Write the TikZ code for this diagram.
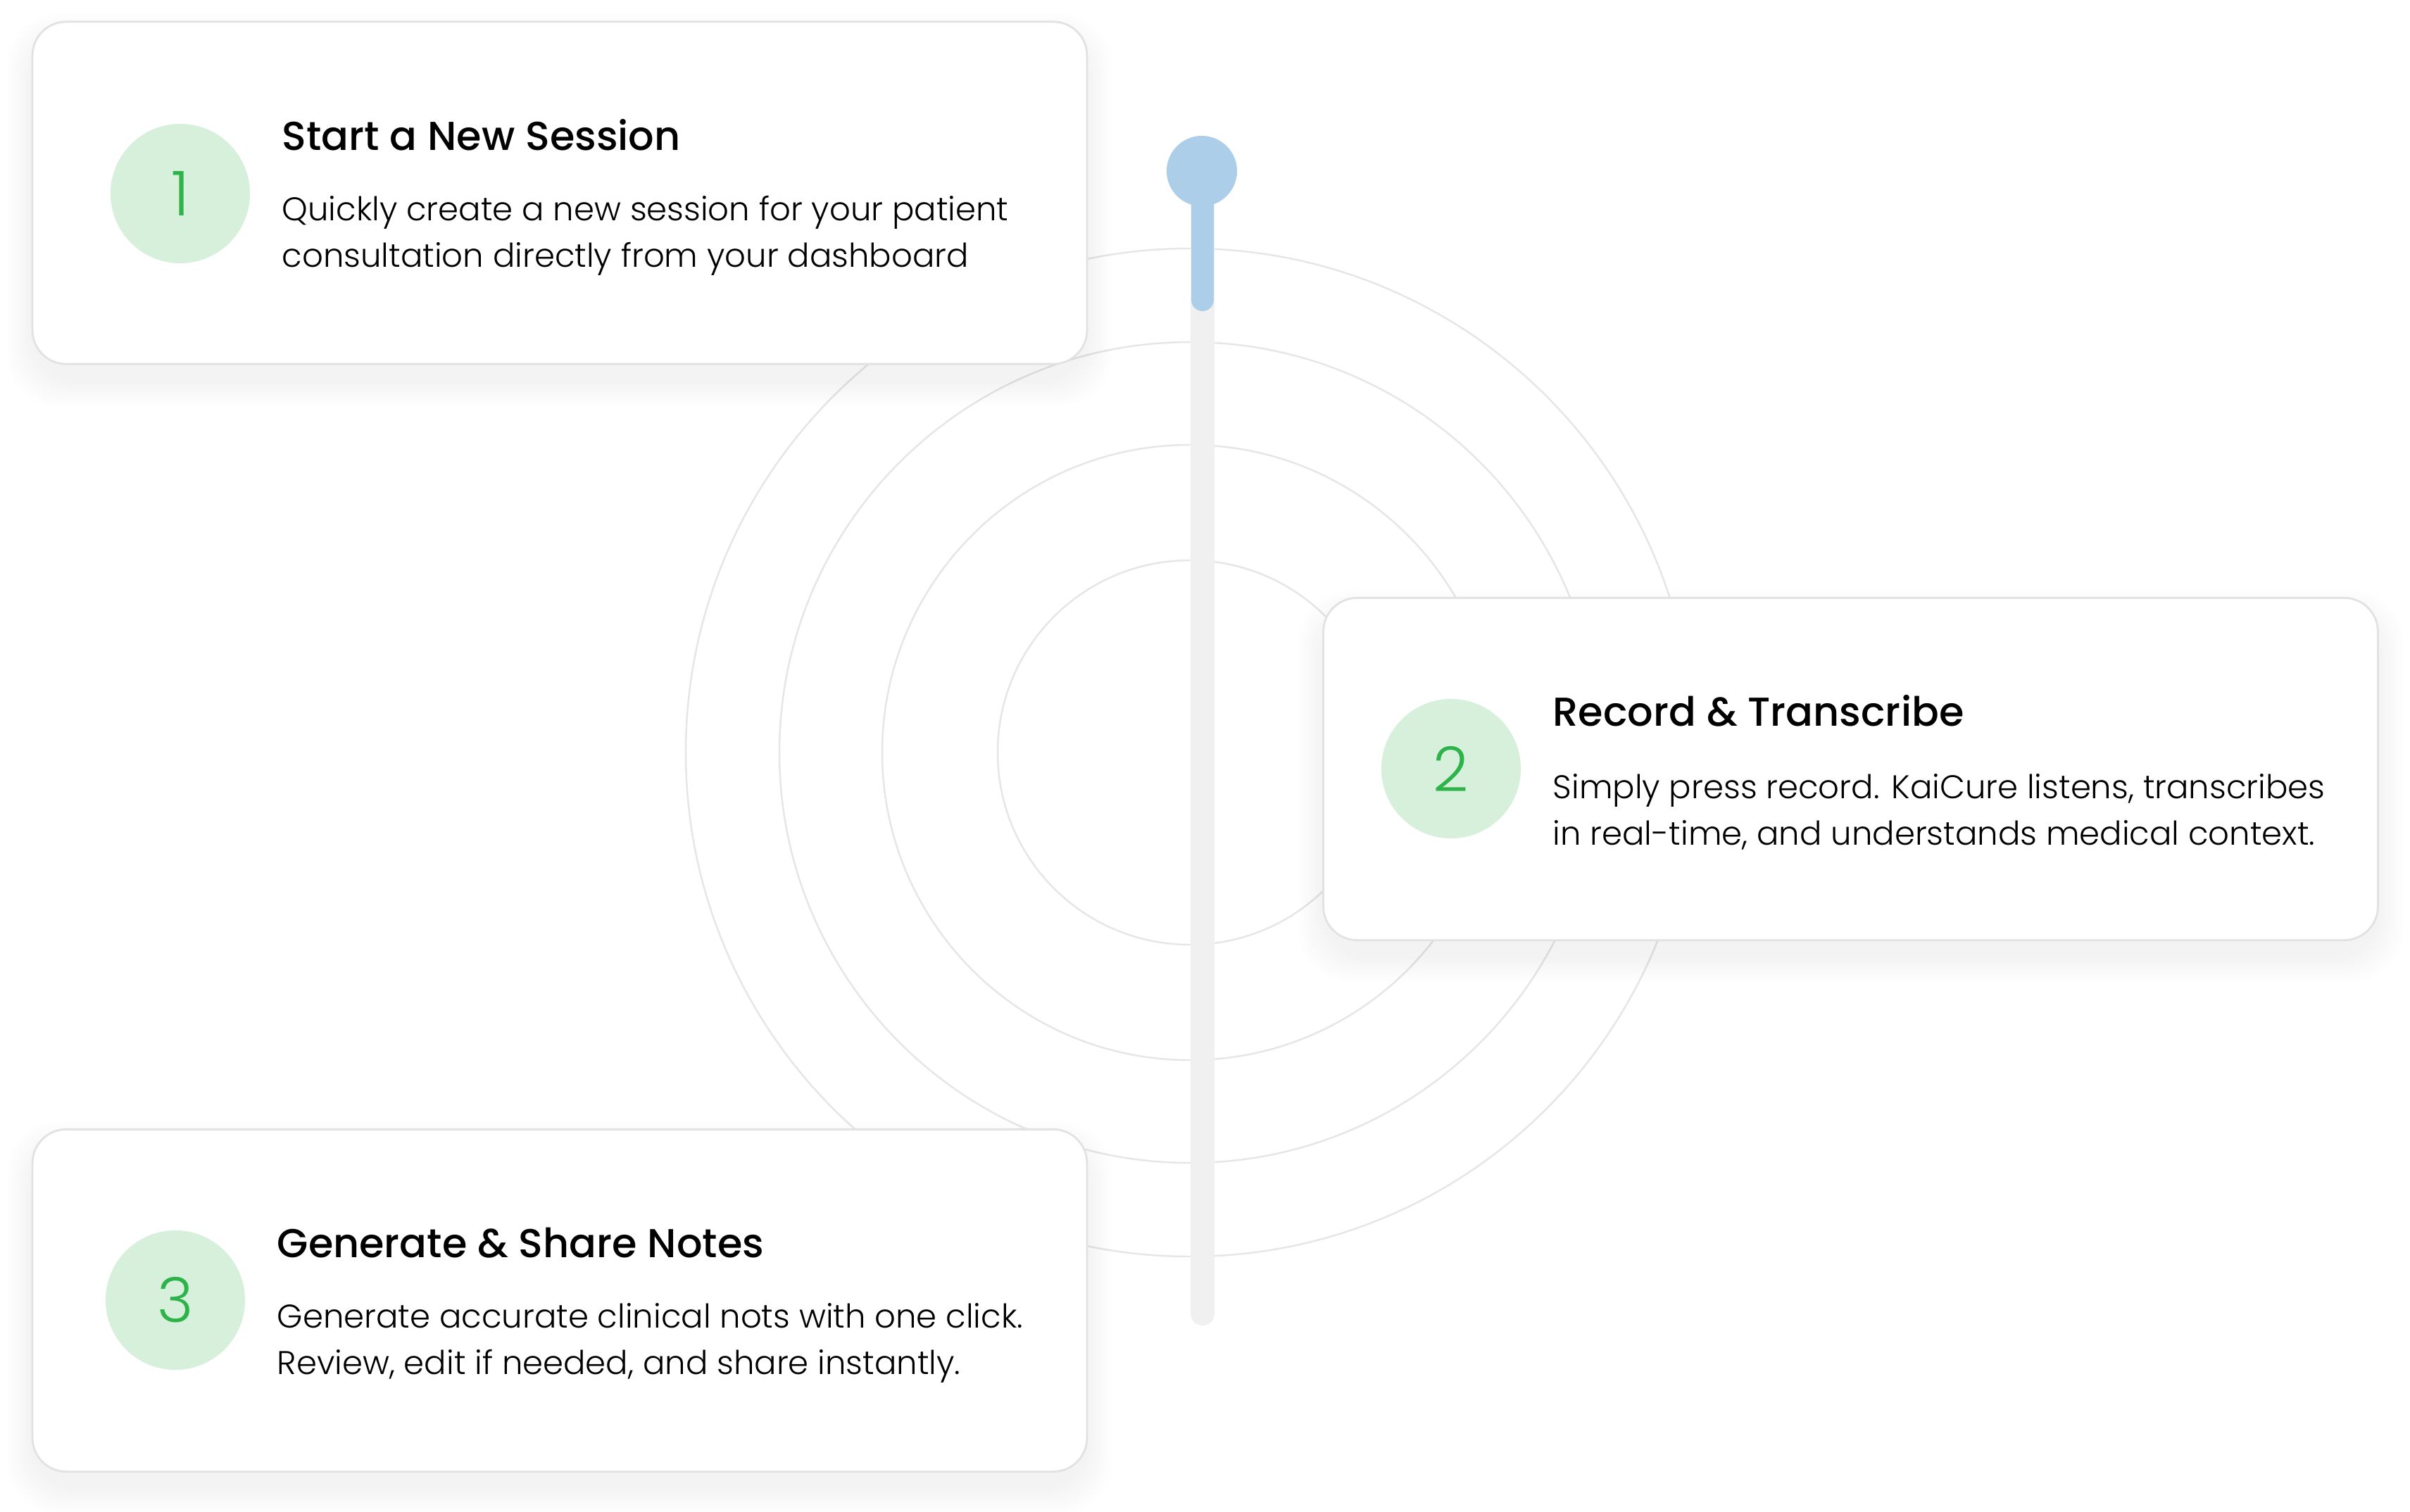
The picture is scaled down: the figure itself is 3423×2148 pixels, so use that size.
\documentclass[tikz,border=0pt]{standalone}
\usepackage{xcolor}
\usepackage{fontspec}
\usepackage{tikz}
\usetikzlibrary{positioning}
\newfontfamily\cardfont{Poppins Light}
\newfontfamily\headfont{Poppins Medium}
\definecolor{ringgray}{HTML}{E6E6E6}
\definecolor{trackgray}{HTML}{F0F0F0}
\definecolor{barblue}{HTML}{ACCEE9}
\definecolor{stepgreen}{HTML}{D7F0DC}
\definecolor{numgreen}{HTML}{2DB34A}
\definecolor{cardline}{HTML}{E2E2E2}
\tikzset{x=0.01cm, y=-0.01cm}
\tikzstyle{ring} = [draw=ringgray, line width=0.7pt]
\tikzstyle{card} = [draw=cardline, fill=white, line width=0.8pt, rounded corners=0.48cm, minimum width=14.97cm, minimum height=4.86cm, inner sep=0]
\tikzstyle{badge} = [circle, fill=stepgreen, minimum size=1.98cm, inner sep=0, text=numgreen, font=\cardfont\fontsize{25}{30}\selectfont]
\tikzstyle{head} = [inner sep=0, anchor=base west, font=\headfont\fontsize{16.3}{20}\selectfont]
\tikzstyle{body} = [inner sep=0, anchor=west, align=left, font=\cardfont\fontsize{13.25}{18.76}\selectfont]

\begin{document}
\begin{tikzpicture}
\useasboundingbox (0, 0) rectangle (3423, 2148);
\fill [white] (0, 0) rectangle (3423, 2148);
% rings
\foreach \r in {273, 437, 583, 716}
  \draw [ring] (1690, 1069) circle [radius=\r*0.01cm];
% track and handle
\coordinate (top) at (1708, 243);
\coordinate (low) at (1708, 1866);
\coordinate (mid) at (1708, 426);
\draw [trackgray, line width=0.34cm, line cap=round] (top) -- (low);
\node [circle, fill=barblue, minimum size=1cm, inner sep=0] (knob) at (1707, 243) {};
\draw [barblue, line width=0.32cm, line cap=round] (top) -- (mid);
% shadows
\foreach \i in {1, ..., 12} {
  \fill [black, opacity=0.0025, rounded corners=0.7cm] (46-\i*3, 31+24-\i*3) rectangle (1543+\i*3, 517+24+\i*3);
  \fill [black, opacity=0.0025, rounded corners=0.7cm] (1880-\i*3, 850+24-\i*3) rectangle (3377+\i*3, 1335+24+\i*3);
  \fill [black, opacity=0.0025, rounded corners=0.7cm] (46-\i*3, 1605+24-\i*3) rectangle (1543+\i*3, 2090+24+\i*3);
}
% cards
\node [card] (c1) at (795, 274) {};
\node [card] (c2) at (2628.5, 1092.5) {};
\node [card] (c3) at (795, 1847.5) {};
\node [badge] (n1) at (256, 275) {1};
\node [badge] (n2) at (2061, 1092) {2};
\node [badge] (n3) at (249, 1847) {3};
\node [head] (t1) at (400, 213) {Start a New Session};
\node [head] (t2) at (2205, 1031) {Record \& Transcribe};
\node [head] (t3) at (393, 1786) {Generate \& Share Notes};
\node [body] (d1) at (400, 335) {Quickly create a new session for your patient\\consultation directly from your dashboard};
\node [body] (d2) at (2205, 1153) {Simply press record. KaiCure listens, transcribes\\in real-time, and understands medical context.};
\node [body] (d3) at (393, 1908) {Generate accurate clinical nots with one click.\\Review, edit if needed, and share instantly.};
\end{tikzpicture}
\end{document}
